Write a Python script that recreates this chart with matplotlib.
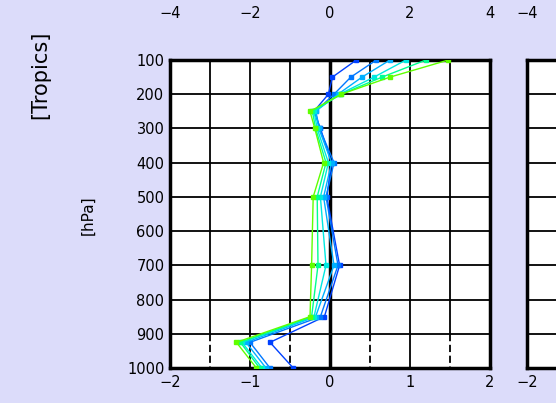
import matplotlib.pyplot as plt
import numpy as np

# niveis de pressao (hPa) e perfis
levels = [100, 150, 200, 250, 300, 400, 500, 700, 850, 925, 1000]
s1 = [0.33, 0.03, -0.02, -0.20, -0.12, 0.02, -0.04, 0.12, -0.07, -0.75, -0.46]
s2 = [0.58, 0.26, 0.05, -0.18, -0.13, 0.05, -0.05, 0.10, -0.12, -1.00, -0.75]
s3 = [0.75, 0.40, 0.10, -0.18, -0.14, 0.02, -0.08, 0.05, -0.18, -1.05, -0.80]
s4 = [0.95, 0.55, 0.12, -0.20, -0.16, -0.02, -0.12, -0.05, -0.20, -1.10, -0.85]
s5 = [1.20, 0.65, 0.14, -0.22, -0.18, -0.05, -0.16, -0.15, -0.23, -1.12, -0.88]
s6 = [1.48, 0.75, 0.14, -0.25, -0.19, -0.08, -0.21, -0.23, -0.25, -1.17, -0.92]
series = [s1, s2, s3, s4, s5, s6]
colors = ['#0040ff', '#0078ff', '#00b0ff', '#00e8e0', '#00ff90', '#60ff00']

yticks = [100, 200, 300, 400, 500, 600, 700, 800, 900, 1000]
xticks_bottom = [-2, -1, 0, 1, 2]
xticks_top = [-4, -2, 0, 2, 4]

bg = '#dcdcfa'
fig = plt.figure(figsize=(5.56, 4.03), dpi=100, facecolor=bg)


def lab(vals):
    return [str(v).replace('-', '\u2212') for v in vals]


def panel(ax, xb, xt):
    ax.set_facecolor('white')
    ax.set_xlim(-2, 2)
    ax.set_ylim(1000, 100)
    for y in yticks:
        ax.axhline(y, color='black', lw=1.3, zorder=1)
    for x in np.arange(-1.5, 2.0, 0.5):
        if x == 0:
            continue
        ax.vlines(x, 100, 900, color='black', lw=1.3, zorder=1)
        if abs(x) % 1 == 0.5:
            ax.vlines(x, 900, 1000, color='black', lw=1.3, linestyles=(0, (4, 2)), zorder=1)
        else:
            ax.vlines(x, 900, 1000, color='black', lw=1.3, zorder=1)
    ax.vlines(0, 100, 1000, color='black', lw=2.5, zorder=1)
    for sp in ax.spines.values():
        sp.set_linewidth(2.5)
    ax.set_xticks(xb)
    ax.set_xticklabels(lab(xb))
    ax.tick_params(length=0, labelsize=10.5, pad=5)
    top = ax.twiny()
    top.set_xlim(-4, 4)
    top.set_xticks(xt)
    top.set_xticklabels(lab(xt))
    top.tick_params(length=0, labelsize=10.5, pad=28)
    for sp in top.spines.values():
        sp.set_visible(False)
    return ax


ax = panel(fig.add_axes([170/556, 1-368/403, 320/556, 308/403]), xticks_bottom, xticks_top)
ax.set_yticks(yticks)
ax.tick_params(axis='y', labelsize=10.5, pad=4)

for s, c in zip(series, colors):
    ax.plot(s, levels, color=c, lw=1.0, marker='s', ms=3.5, mec=c, mfc=c, zorder=3)

# painel vizinho (cortado)
ax2 = panel(fig.add_axes([527/556, 1-368/403, 320/556, 308/403]), xticks_bottom[:1], xticks_top[:1])
ax2.set_yticks([])

fig.text(40/556, 1-75/403, '[Tropics]', rotation=90, ha='center', va='center', fontsize=15)
fig.text(88/556, 1-215/403, '[hPa]', rotation=90, ha='center', va='center', fontsize=11)

plt.savefig('out.png', dpi=100, facecolor=bg)
